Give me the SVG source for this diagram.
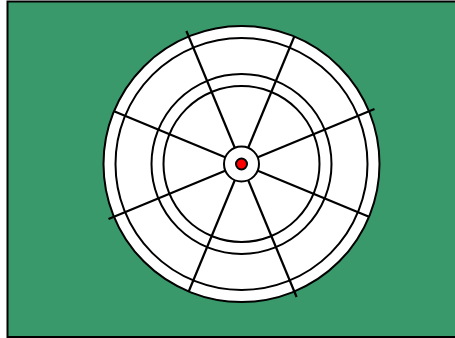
<svg xmlns="http://www.w3.org/2000/svg" width="455" height="338" viewBox="0 0 455 338">
<style>
.ring{fill:#fff;stroke:#000;stroke-width:2}
.ln{fill:none;stroke:#000;stroke-width:2}
.sp{stroke:#000;stroke-width:2.2;stroke-linecap:butt}
</style>
<rect x="7.5" y="1.5" width="460" height="335.5" fill="#3a996b" stroke="#000" stroke-width="2"/>
<g id="board">
<circle class="ring" cx="241.5" cy="164" r="138"/>
<circle class="ln" cx="241.5" cy="164" r="126"/>
<circle class="ln" cx="241.5" cy="164" r="90"/>
<circle class="ln" cx="241.5" cy="164" r="78"/>
</g>
<g id="spokes">
<line class="sp" x1="241.5" y1="164" x2="186.4" y2="31"/>
<line class="sp" x1="241.5" y1="164" x2="296.6" y2="297"/>
<line class="sp" x1="241.5" y1="164" x2="374.5" y2="108.9"/>
<line class="sp" x1="241.5" y1="164" x2="108.5" y2="219.1"/>
<line class="sp" x1="241.5" y1="164" x2="294.3" y2="36.5"/>
<line class="sp" x1="241.5" y1="164" x2="188.7" y2="291.5"/>
<line class="sp" x1="241.5" y1="164" x2="369" y2="216.8"/>
<line class="sp" x1="241.5" y1="164" x2="114" y2="111.2"/>
</g>
<g id="bull">
<circle class="ring" cx="241.5" cy="164" r="17.5"/>
<circle cx="241.5" cy="164" r="5.5" fill="#f00" stroke="#000" stroke-width="2"/>
</g>
</svg>
